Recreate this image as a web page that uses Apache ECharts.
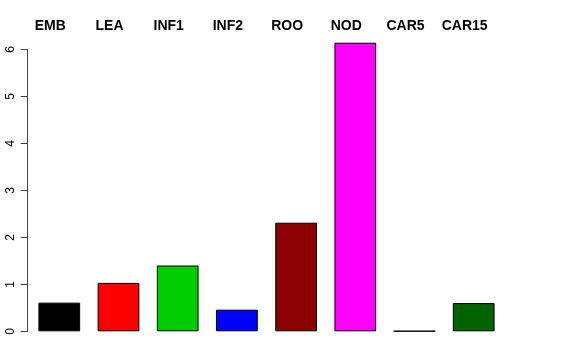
<!DOCTYPE html>
<html><head><meta charset="utf-8">
<script src="https://cdn.jsdelivr.net/npm/echarts@6/dist/echarts.min.js"></script>
<style>html,body{margin:0;padding:0;background:#fff}#c{width:576px;height:360px}</style>
</head><body><div id="c"></div>
<script>
const categories = ['EMB','LEA','INF1','INF2','ROO','NOD','CAR5','CAR15'];
const values = [0.61, 1.03, 1.40, 0.46, 2.31, 6.14, 0.005, 0.60];
const colors = ['#000000','#FF0000','#00CD00','#0000FF','#8B0000','#FF00FF','#FFFF00','#006400'];
const yTicks = [0,1,2,3,4,5,6];

const chart = echarts.init(document.getElementById('c'), null, {renderer:'canvas'});
chart.setOption({
  animation:false,
  backgroundColor:'#fff',
  grid:{left:29.7, top:49.3, width:473.6, bottom:28.7},
  xAxis:{
    type:'category', data:categories, position:'top',
    axisLine:{show:false}, axisTick:{show:false},
    axisLabel:{margin:16, fontFamily:'Liberation Sans, Arial', fontWeight:'bold', fontSize:14, color:'#000', padding:[0,18,0,0], interval:0}
  },
  yAxis:{
    type:'value', min:yTicks[0], max:yTicks[yTicks.length-1], interval:1, offset:2,
    splitLine:{show:false},
    axisLine:{show:true, lineStyle:{color:'#444', width:1}},
    axisTick:{show:true, length:7, lineStyle:{color:'#444'}},
    axisLabel:{rotate:90, margin:11, fontFamily:'Liberation Sans, Arial', fontSize:12, color:'#000'}
  },
  series:[{
    type:'bar', clip:false, barWidth:'70.5%',
    data: values.map((v,i)=>({value:v, itemStyle:{color:colors[i]}})),
    itemStyle:{borderColor:'#000', borderWidth:1}
  }]
});
</script></body></html>
